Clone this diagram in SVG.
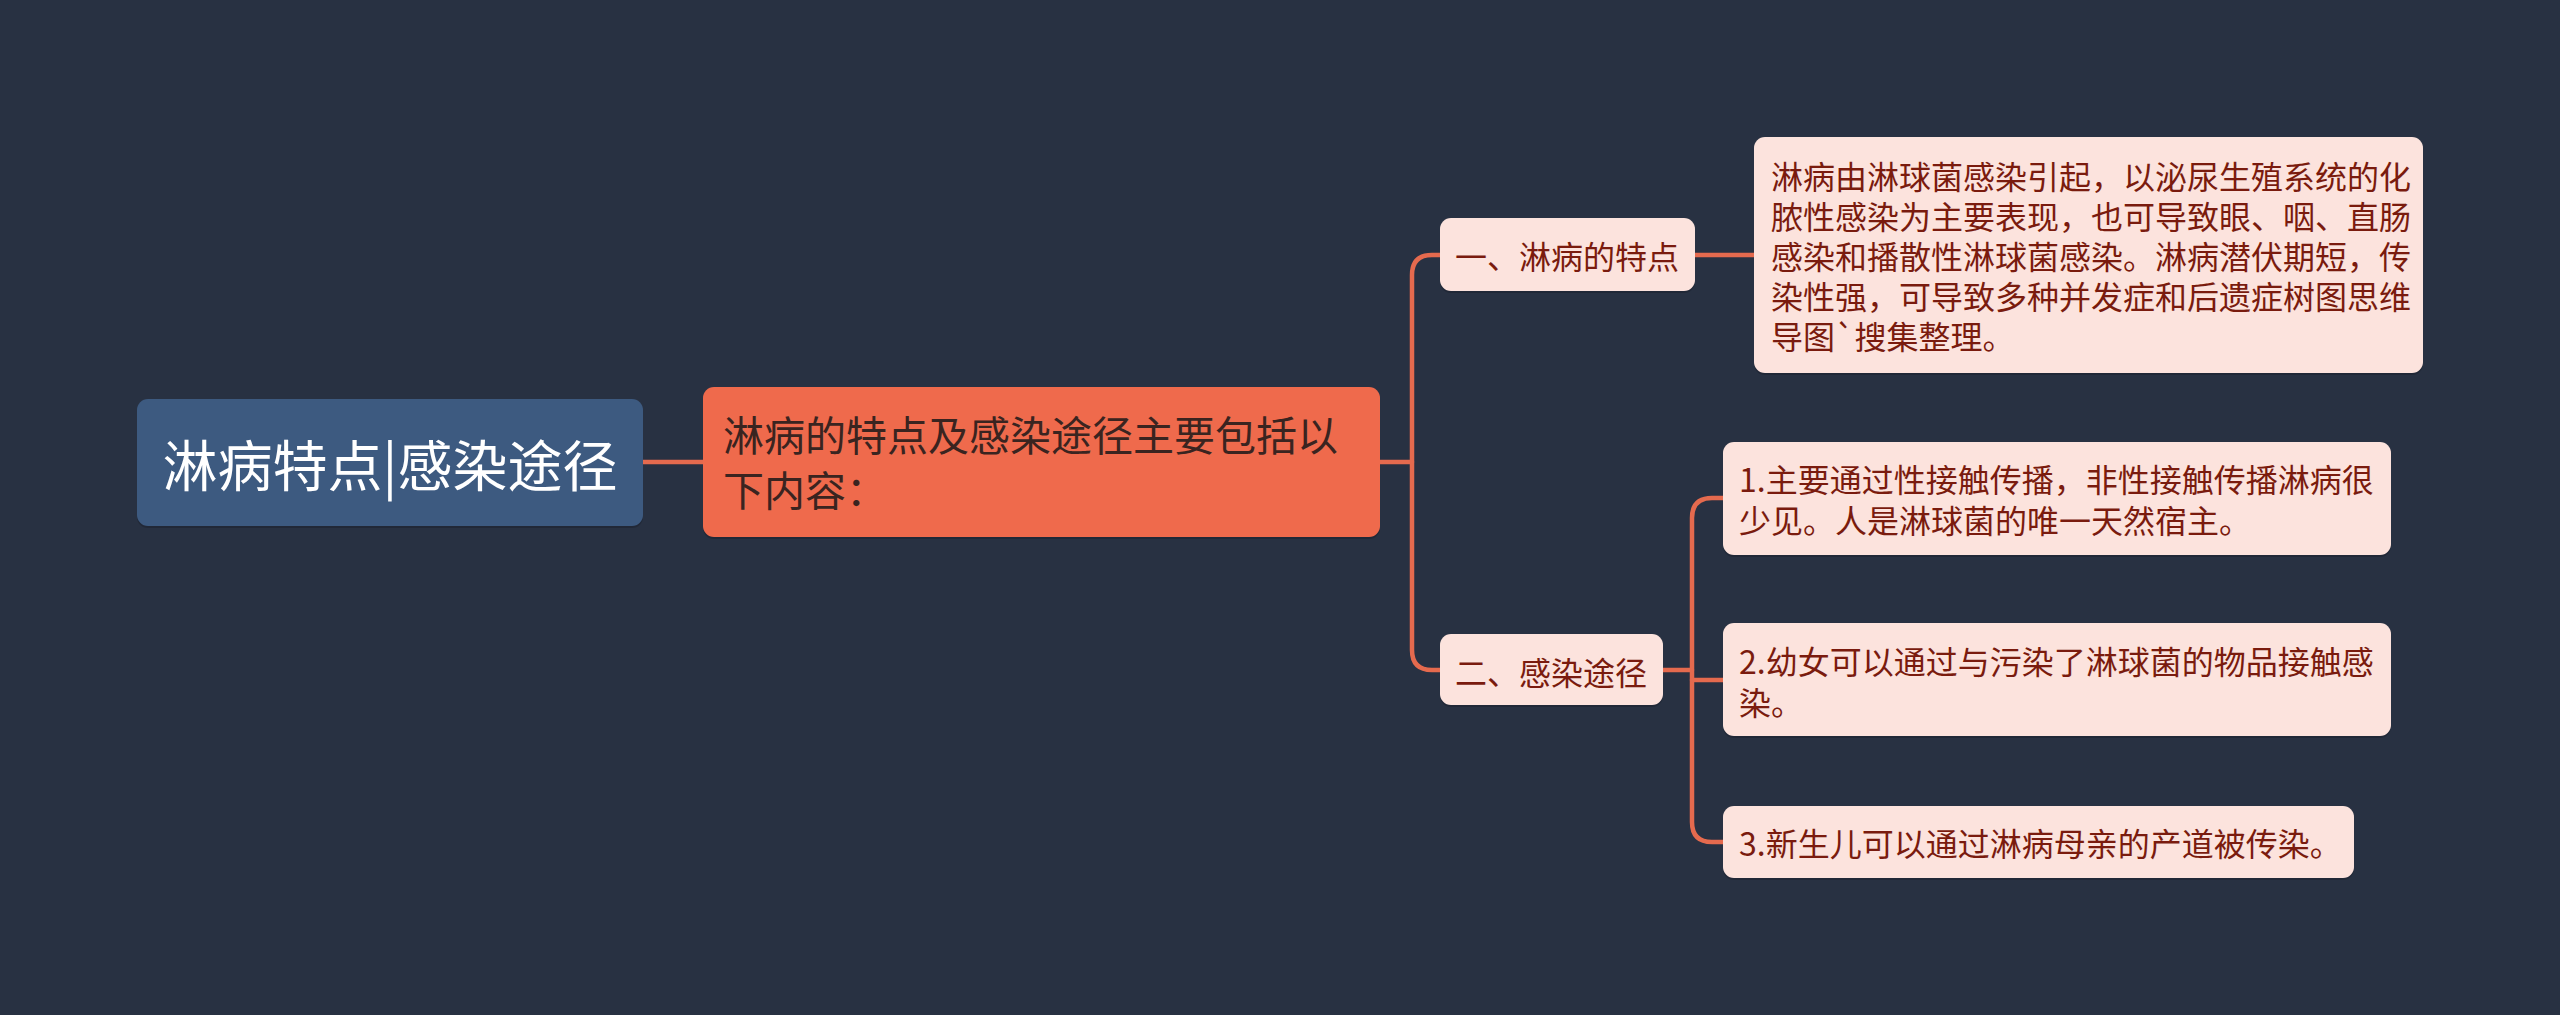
<svg xmlns="http://www.w3.org/2000/svg" width="2560" height="1015" viewBox="0 0 2560 1015">
<style>
.bg{fill:#283142}
.conn{fill:none;stroke:#E56A4E;stroke-width:4.5;stroke-linecap:round}
.sh{fill:#1c2330;opacity:0.6}
.root{fill:#3D5A80}
.main{fill:#EF6A4C}
.leaf{fill:#FCE3DD}
.t{font-family:"Noto Sans CJK SC","Noto Sans",sans-serif}
.troot{fill:#FFFFFF;font-size:55px;text-anchor:middle}
.tmain{fill:#3A2420;font-size:41px}
.tleaf{fill:#7A1B0E;font-size:32px}
</style>
<rect class="bg" x="0" y="0" width="2560" height="1015"/>
<g id="connectors">
<path class="conn" d="M643,462 H703"/>
<path class="conn" d="M1380,462 H1412"/>
<path class="conn" d="M1440,255 H1432 Q1412,255 1412,275 V650 Q1412,670 1432,670 H1440"/>
<path class="conn" d="M1695,255 H1754"/>
<path class="conn" d="M1663,670 H1692"/>
<path class="conn" d="M1723,498 H1712 Q1692,498 1692,518 V822 Q1692,842 1712,842 H1723"/>
<path class="conn" d="M1692,680 H1723"/>
</g>
<g id="root">
<rect class="sh" x="137" y="401" width="506" height="127" rx="11"/>
<rect class="root" x="137" y="399" width="506" height="127" rx="11"/>
<text class="t troot" x="390" y="486">淋病特点|感染途径</text>
</g>
<g id="main">
<rect class="sh" x="703" y="389" width="677" height="150" rx="11"/>
<rect class="main" x="703" y="387" width="677" height="150" rx="11"/>
<text class="t tmain" x="723" y="451">淋病的特点及感染途径主要包括以</text>
<text class="t tmain" x="723" y="506">下内容：</text>
</g>
<g id="n1">
<rect class="sh" x="1440" y="220" width="255" height="73" rx="11"/>
<rect class="leaf" x="1440" y="218" width="255" height="73" rx="11"/>
<text class="t tleaf" x="1455" y="269">一、淋病的特点</text>
</g>
<g id="n1a">
<rect class="sh" x="1754" y="139" width="669" height="236" rx="11"/>
<rect class="leaf" x="1754" y="137" width="669" height="236" rx="11"/>
<text class="t tleaf" x="1771" y="189">淋病由淋球菌感染引起，以泌尿生殖系统的化</text>
<text class="t tleaf" x="1771" y="229">脓性感染为主要表现，也可导致眼、咽、直肠</text>
<text class="t tleaf" x="1771" y="269">感染和播散性淋球菌感染。淋病潜伏期短，传</text>
<text class="t tleaf" x="1771" y="309">染性强，可导致多种并发症和后遗症树图思维</text>
<text class="t tleaf" x="1771" y="349">导图`搜集整理。</text>
</g>
<g id="n2">
<rect class="sh" x="1440" y="636" width="223" height="71" rx="11"/>
<rect class="leaf" x="1440" y="634" width="223" height="71" rx="11"/>
<text class="t tleaf" x="1455" y="685">二、感染途径</text>
</g>
<g id="n2a">
<rect class="sh" x="1723" y="444" width="668" height="113" rx="11"/>
<rect class="leaf" x="1723" y="442" width="668" height="113" rx="11"/>
<text class="t tleaf" x="1739" y="492">1.主要通过性接触传播，非性接触传播淋病很</text>
<text class="t tleaf" x="1739" y="533">少见。人是淋球菌的唯一天然宿主。</text>
</g>
<g id="n2b">
<rect class="sh" x="1723" y="625" width="668" height="113" rx="11"/>
<rect class="leaf" x="1723" y="623" width="668" height="113" rx="11"/>
<text class="t tleaf" x="1739" y="674">2.幼女可以通过与污染了淋球菌的物品接触感</text>
<text class="t tleaf" x="1739" y="715">染。</text>
</g>
<g id="n2c">
<rect class="sh" x="1723" y="808" width="631" height="72" rx="11"/>
<rect class="leaf" x="1723" y="806" width="631" height="72" rx="11"/>
<text class="t tleaf" x="1739" y="856">3.新生儿可以通过淋病母亲的产道被传染。</text>
</g>
</svg>
